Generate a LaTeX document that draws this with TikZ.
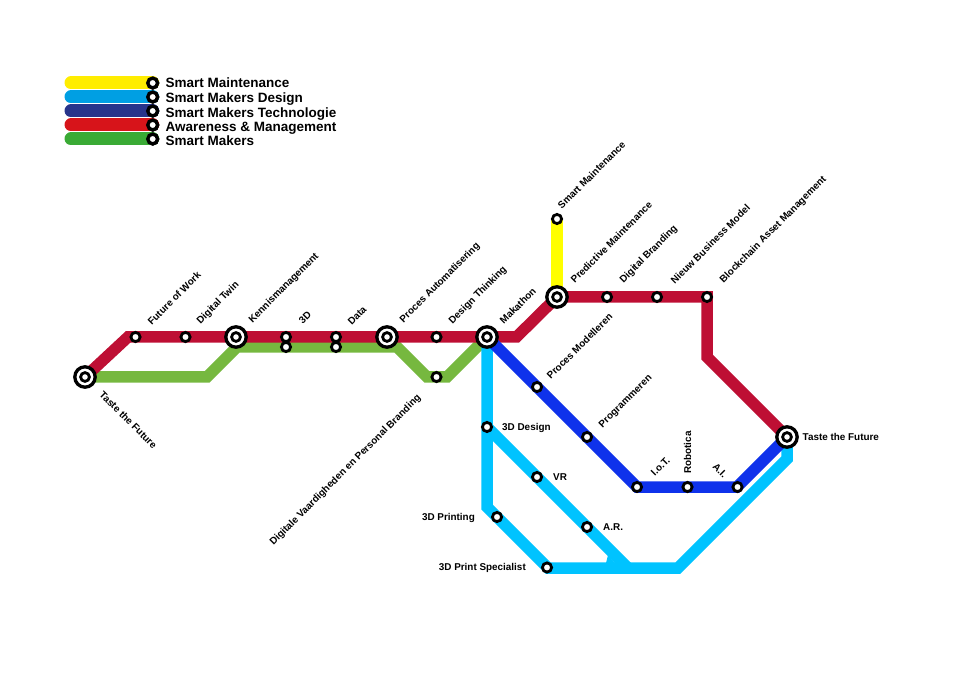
\documentclass[tikz,border=0pt]{standalone}
\usepackage{fontspec}
\setmainfont{Liberation Sans}
\definecolor{cred}{HTML}{BE0F34}
\definecolor{cgreen}{HTML}{76B83F}
\definecolor{ccyan}{HTML}{00C3FF}
\definecolor{cblue}{HTML}{0F32EB}
\definecolor{cyellow}{HTML}{FFFF00}
\definecolor{lyellow}{HTML}{FFED00}
\definecolor{lcyan}{HTML}{009FE3}
\definecolor{lnavy}{HTML}{27348B}
\definecolor{lred}{HTML}{D7141A}
\definecolor{lgreen}{HTML}{3AAA35}
\tikzset{
  route/.style={line width=11.5pt,line join=miter,line cap=butt},
  keybar/.style={line width=13pt,line cap=round},
  stop/.style={circle,draw=black,fill=white,line width=2.8pt,minimum size=9.2pt,inner sep=0pt},
  keystop/.style={circle,draw=black,fill=white,line width=3.4pt,minimum size=9.8pt,inner sep=0pt},
  hub/.style={circle,draw=black,fill=white,line width=3.3pt,minimum size=20.4pt,inner sep=0pt,
    path picture={\draw[black,line width=2.8pt] (path picture bounding box.center) circle (4.4pt);}},
  lab/.style={font=\bfseries\fontsize{9.9}{11}\selectfont,inner sep=0pt,text=black},
  diag/.style={lab,rotate=45,anchor=south west},
  keytext/.style={font=\fontsize{13.5}{15}\selectfont\bfseries,inner sep=0pt,anchor=west,text=black},
}
\begin{document}
\begin{tikzpicture}[x=1pt,y=-1pt]
\useasboundingbox (0,0) rectangle (980,700);
% legend
\foreach \n/\c/\y in {a/lyellow/83,b/lcyan/97,c/lnavy/111,d/lred/125,e/lgreen/139}{
  \coordinate (k\n) at (71,\y);
  \node[keystop] (ks\n) at (152.7,\y) {};
  \draw[keybar,\c] (k\n) -- (ks\n.center);
  \node[keystop] at (ks\n) {};
}
\node[keytext] (t1) at (165.5,83) {Smart Maintenance};
\node[keytext] (t2) at (165.5,99.5) {Smart Makers Design};
\node[keytext] (t3) at (165.5,114) {Smart Makers Technologie};
\node[keytext] (t4) at (165.5,128.5) {Awareness \& Management};
\node[keytext] (t5) at (165.5,141) {Smart Makers};
% waypoints
\coordinate (r1) at (128,337);
\coordinate (r2) at (516.5,337);
\coordinate (r3) at (707,297);
\coordinate (r4) at (707,357);
\coordinate (g1) at (207,377);
\coordinate (g2) at (237,347);
\coordinate (g3) at (397,347);
\coordinate (g4) at (427,377);
\coordinate (g5) at (447,377);
\coordinate (c1) at (487,507);
\coordinate (c2) at (548,568);
\coordinate (c3) at (678,568);
\coordinate (c4) at (787,459);
\coordinate (c5) at (487,427);
\coordinate (c6) at (628,568);
\coordinate (b1) at (637,487);
\coordinate (b2) at (737,487);
% stations (positions)
\coordinate (pL) at (85,377);
\coordinate (pK) at (236,337);
\coordinate (pP) at (387,337);
\coordinate (pM) at (487,337);
\coordinate (pV) at (557,297);
\coordinate (pR) at (787,437);
\coordinate (pS) at (557,219);
% routes
\draw[route,cgreen] (pL) -- (g1) -- (g2) -- (g3) -- (g4) -- (g5) -- (pM);
\draw[route,cred] (pL) -- (r1) -- (r2) -- (pV) -- (r3) -- (r4) -- (pR);
\draw[route,cyellow] (pS) -- (pV);
\draw[route,ccyan] (pR) -- (c4) -- (c3) -- (c2) -- (c1) -- (pM);
\draw[route,ccyan] (c5) -- (c6);
\fill[ccyan] (606,563) -- (615,563) -- (608,555) -- cycle;
\draw[route,cblue] (pM) -- (b1) -- (b2) -- (pR);
% hubs
\node[hub] (L) at (pL) {};
\node[hub] (K) at (pK) {};
\node[hub] (P) at (pP) {};
\node[hub] (M) at (pM) {};
\node[hub] (V) at (pV) {};
\node[hub] (R) at (pR) {};
% stops
\node[stop] (S) at (pS) {};
\node[stop] (s1) at (135.5,337) {};
\node[stop] (s2) at (185.5,337) {};
\node[stop] (s3a) at (286,337) {};
\node[stop] (s3b) at (286,347) {};
\node[stop] (s4a) at (336,337) {};
\node[stop] (s4b) at (336,347) {};
\node[stop] (s5) at (436.5,337) {};
\node[stop] (s6) at (436.5,377) {};
\node[stop] (s7) at (607,297) {};
\node[stop] (s8) at (657,297) {};
\node[stop] (s9) at (707,297) {};
\node[stop] (s10) at (537,387) {};
\node[stop] (s11) at (587,437) {};
\node[stop] (s12) at (637,487) {};
\node[stop] (s13) at (687.5,487) {};
\node[stop] (s14) at (737.5,487) {};
\node[stop] (s15) at (487,427) {};
\node[stop] (s16) at (537,477) {};
\node[stop] (s17) at (587,527) {};
\node[stop] (s18) at (497,517) {};
\node[stop] (s19) at (547,567.5) {};
% labels
\node[lab,rotate=-45,anchor=north west] at (104,390) {Taste the Future};
\node[diag] at (152,326) {Future of Work};
\node[diag] at (202,326) {Digital Twin};
\node[diag] at (254,325) {Kennismanagement};
\node[diag] at (303,325) {3D};
\node[diag] at (352,326) {Data};
\node[diag] at (405,325) {Proces Automatisering};
\node[diag] at (454,326) {Design Thinking};
\node[diag] at (504,325) {Makathon};
\node[diag] at (551,380) {Proces Modelleren};
\node[diag] at (604,430) {Programmeren};
\node[diag] at (655,477) {I.o.T.};
\node[lab,rotate=90,anchor=west] at (687.5,474) {Robotica};
\node[lab,rotate=-45,anchor=north west] at (717,462) {A.I.};
\node[lab,anchor=west] at (802.5,437) {Taste the Future};
\node[diag] at (575,284) {Predictive Maintenance};
\node[diag] at (625,285) {Digital Branding};
\node[diag] at (675,285) {Nieuw Business Model};
\node[diag] at (725,285) {Blockchain Asset Management};
\node[diag] at (562,210) {Smart Maintenance};
\node[lab,rotate=45,anchor=north east] at (416,393) {Digitale Vaardigheden en Personal Branding};
\node[lab,anchor=west] at (502,428) {3D Design};
\node[lab,anchor=west] at (553,477) {VR};
\node[lab,anchor=west] at (603,527) {A.R.};
\node[lab,anchor=east] at (475,518) {3D Printing};
\node[lab,anchor=east] at (526,568) {3D Print Specialist};
\end{tikzpicture}
\end{document}
